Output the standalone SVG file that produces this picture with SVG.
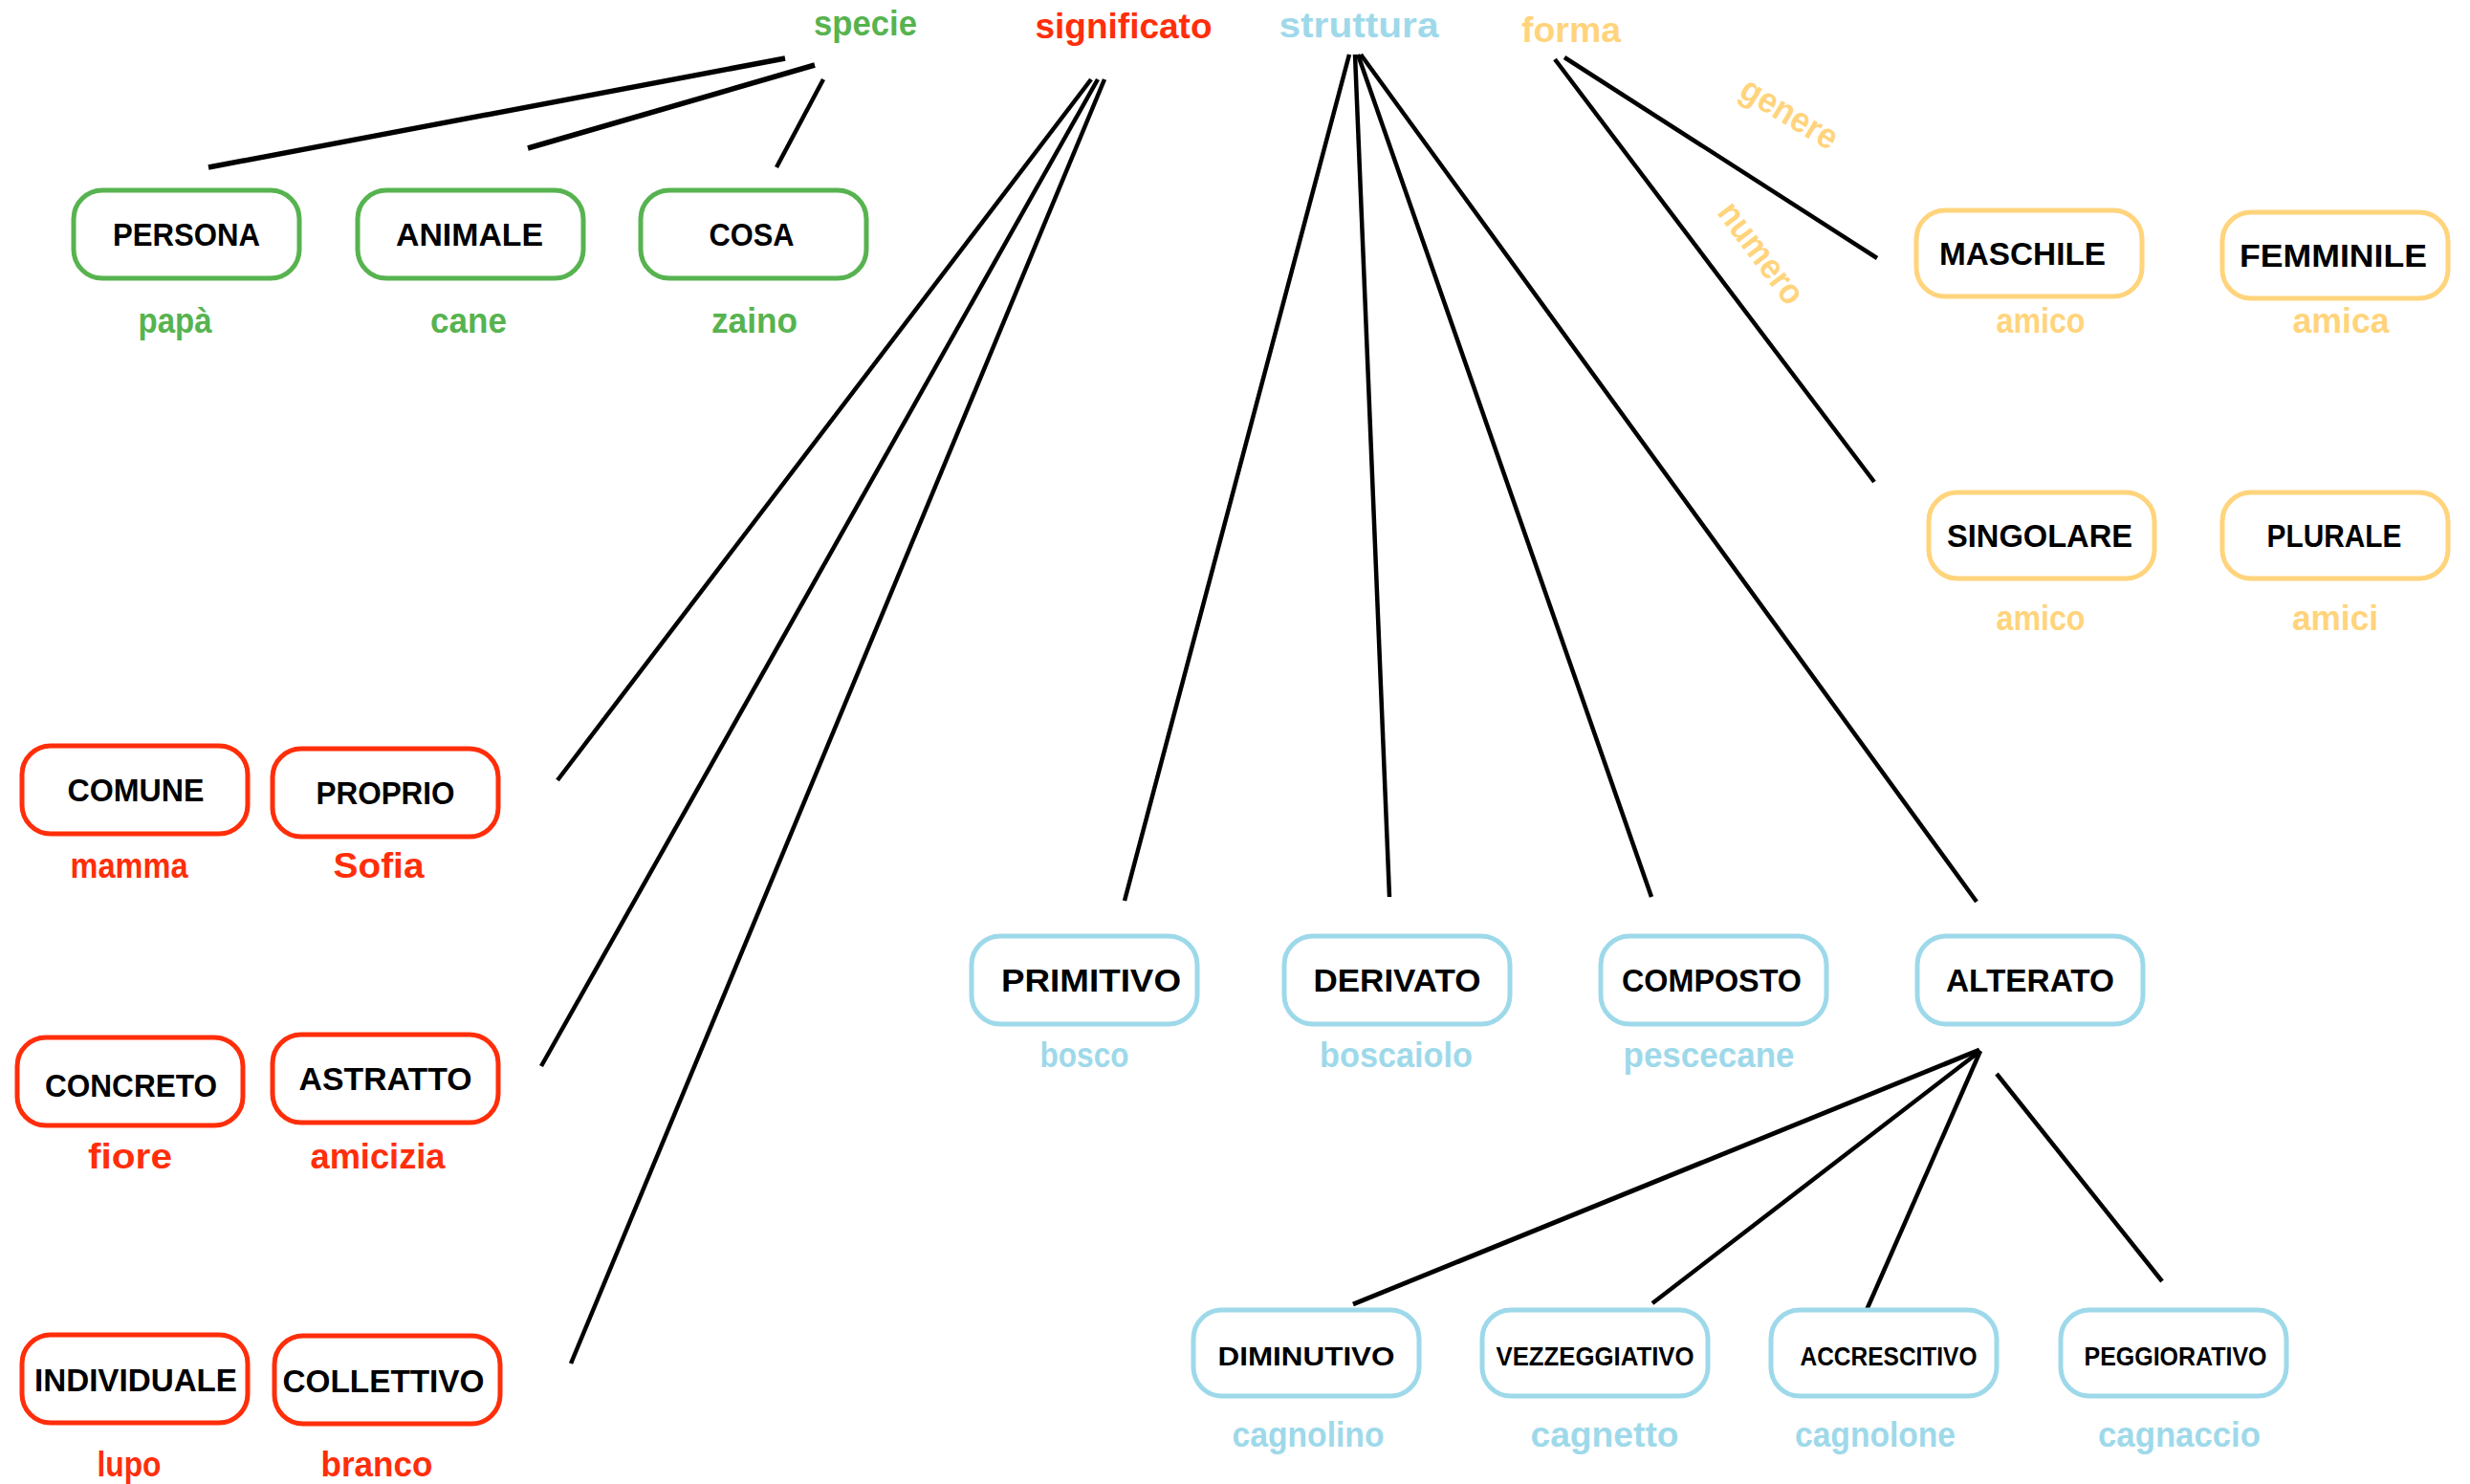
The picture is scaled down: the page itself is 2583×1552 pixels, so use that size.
<svg xmlns="http://www.w3.org/2000/svg" width="2583" height="1552" viewBox="0 0 2583 1552">
<style>
text{font-family:"Liberation Sans","DejaVu Sans",sans-serif;font-weight:bold;text-anchor:middle}
.box{fill:#fff;stroke-width:5}
.g .box{stroke:#57B34F}
.r .box{stroke:#FF2E0A}
.b .box{stroke:#9ED9EA}
.y .box{stroke:#FFD47C}
.lbl{font-size:33px;fill:#000}
.sm{font-size:27px;fill:#000}
.ex{font-size:36px}
.title{font-size:37px}
.gt{fill:#57B34F}
.rt{fill:#FF2E0A}
.bt{fill:#9ED9EA}
.yt{fill:#FFD47C}
.conn line{stroke:#000;stroke-width:4.5;stroke-linecap:butt}
</style>
<rect width="2583" height="1552" fill="#fff"/>
<g id="connectors" class="conn">
<line x1="821" y1="61" x2="218" y2="175" style="stroke-width:5.5"/>
<line x1="852" y1="68" x2="552" y2="155" style="stroke-width:5.5"/>
<line x1="861" y1="83" x2="812" y2="175"/>
<line x1="1141" y1="83" x2="583" y2="816"/>
<line x1="1148" y1="83" x2="566" y2="1115"/>
<line x1="1155" y1="83" x2="597" y2="1426"/>
<line x1="1411" y1="57" x2="1176" y2="942"/>
<line x1="1417" y1="57" x2="1453" y2="938"/>
<line x1="1420" y1="57" x2="1727" y2="938"/>
<line x1="1423" y1="57" x2="2067" y2="943"/>
<line x1="1636" y1="60" x2="1963" y2="270"/>
<line x1="1626" y1="62" x2="1960" y2="504"/>
<line x1="2070" y1="1098" x2="1415" y2="1364" style="stroke-width:5"/>
<line x1="2071" y1="1099" x2="1728" y2="1363"/>
<line x1="2071" y1="1099" x2="1952" y2="1370"/>
<line x1="2088" y1="1123" x2="2261" y2="1340"/>
</g>
<g id="titles">
<text id="t-specie" class="title gt" x="905" y="37" textLength="108" lengthAdjust="spacingAndGlyphs">specie</text>
<text id="t-significato" class="title rt" x="1175" y="40" textLength="185" lengthAdjust="spacingAndGlyphs">significato</text>
<text id="t-struttura" class="title bt" x="1421" y="39" textLength="167" lengthAdjust="spacingAndGlyphs">struttura</text>
<text id="t-forma" class="title yt" x="1643" y="44" textLength="104" lengthAdjust="spacingAndGlyphs">forma</text>
<text id="t-genere" class="title yt" transform="translate(1865,129) rotate(31)" x="0" y="0" textLength="112" lengthAdjust="spacingAndGlyphs">genere</text>
<text id="t-numero" class="title yt" transform="translate(1832,272) rotate(53)" x="0" y="0" textLength="124" lengthAdjust="spacingAndGlyphs">numero</text>
</g>
<g id="n-persona" class="g"><rect class="box" x="77" y="199" width="236" height="92" rx="30"/><text class="lbl" x="195" y="257" textLength="154" lengthAdjust="spacingAndGlyphs">PERSONA</text><text class="ex gt" x="183" y="348" textLength="77" lengthAdjust="spacingAndGlyphs">papà</text></g>
<g id="n-animale" class="g"><rect class="box" x="374" y="199" width="236" height="92" rx="30"/><text class="lbl" x="491" y="257" textLength="154" lengthAdjust="spacingAndGlyphs">ANIMALE</text><text class="ex gt" x="490" y="348" textLength="80" lengthAdjust="spacingAndGlyphs">cane</text></g>
<g id="n-cosa" class="g"><rect class="box" x="670" y="199" width="236" height="92" rx="30"/><text class="lbl" x="786" y="257" textLength="89" lengthAdjust="spacingAndGlyphs">COSA</text><text class="ex gt" x="789" y="348" textLength="90" lengthAdjust="spacingAndGlyphs">zaino</text></g>
<g id="n-comune" class="r"><rect class="box" x="23" y="780" width="236" height="92" rx="30"/><text class="lbl" x="142" y="838" textLength="143" lengthAdjust="spacingAndGlyphs">COMUNE</text><text class="ex rt" x="135" y="918" textLength="123" lengthAdjust="spacingAndGlyphs">mamma</text></g>
<g id="n-proprio" class="r"><rect class="box" x="285" y="783" width="236" height="92" rx="30"/><text class="lbl" x="403" y="841" textLength="145" lengthAdjust="spacingAndGlyphs">PROPRIO</text><text class="ex rt" x="396" y="918" textLength="95" lengthAdjust="spacingAndGlyphs">Sofia</text></g>
<g id="n-concreto" class="r"><rect class="box" x="18" y="1085" width="236" height="92" rx="30"/><text class="lbl" x="137" y="1147" textLength="180" lengthAdjust="spacingAndGlyphs">CONCRETO</text><text class="ex rt" x="136" y="1222" textLength="88" lengthAdjust="spacingAndGlyphs">fiore</text></g>
<g id="n-astratto" class="r"><rect class="box" x="285" y="1082" width="236" height="92" rx="30"/><text class="lbl" x="403" y="1140" textLength="181" lengthAdjust="spacingAndGlyphs">ASTRATTO</text><text class="ex rt" x="395" y="1222" textLength="141" lengthAdjust="spacingAndGlyphs">amicizia</text></g>
<g id="n-individuale" class="r"><rect class="box" x="23" y="1396" width="236" height="92" rx="30"/><text class="lbl" x="142" y="1455" textLength="212" lengthAdjust="spacingAndGlyphs">INDIVIDUALE</text><text class="ex rt" x="135" y="1544" textLength="67" lengthAdjust="spacingAndGlyphs">lupo</text></g>
<g id="n-collettivo" class="r"><rect class="box" x="287" y="1397" width="236" height="92" rx="30"/><text class="lbl" x="401" y="1456" textLength="211" lengthAdjust="spacingAndGlyphs">COLLETTIVO</text><text class="ex rt" x="394" y="1544" textLength="117" lengthAdjust="spacingAndGlyphs">branco</text></g>
<g id="n-primitivo" class="b"><rect class="box" x="1016" y="979" width="236" height="92" rx="30"/><text class="lbl" x="1141" y="1037" textLength="188" lengthAdjust="spacingAndGlyphs">PRIMITIVO</text><text class="ex bt" x="1134" y="1116" textLength="93" lengthAdjust="spacingAndGlyphs">bosco</text></g>
<g id="n-derivato" class="b"><rect class="box" x="1343" y="979" width="236" height="92" rx="30"/><text class="lbl" x="1461" y="1037" textLength="175" lengthAdjust="spacingAndGlyphs">DERIVATO</text><text class="ex bt" x="1460" y="1116" textLength="160" lengthAdjust="spacingAndGlyphs">boscaiolo</text></g>
<g id="n-composto" class="b"><rect class="box" x="1674" y="979" width="236" height="92" rx="30"/><text class="lbl" x="1790" y="1037" textLength="188" lengthAdjust="spacingAndGlyphs">COMPOSTO</text><text class="ex bt" x="1787" y="1116" textLength="179" lengthAdjust="spacingAndGlyphs">pescecane</text></g>
<g id="n-alterato" class="b"><rect class="box" x="2005" y="979" width="236" height="92" rx="30"/><text class="lbl" x="2123" y="1037" textLength="176" lengthAdjust="spacingAndGlyphs">ALTERATO</text></g>
<g id="n-diminutivo" class="b"><rect class="box" x="1248" y="1370" width="236" height="90" rx="30"/><text class="sm" x="1366" y="1428" textLength="185" lengthAdjust="spacingAndGlyphs">DIMINUTIVO</text><text class="ex bt" x="1368" y="1513" textLength="159" lengthAdjust="spacingAndGlyphs">cagnolino</text></g>
<g id="n-vezzeggiativo" class="b"><rect class="box" x="1550" y="1370" width="236" height="90" rx="30"/><text class="sm" x="1668" y="1428" textLength="207" lengthAdjust="spacingAndGlyphs">VEZZEGGIATIVO</text><text class="ex bt" x="1678" y="1513" textLength="155" lengthAdjust="spacingAndGlyphs">cagnetto</text></g>
<g id="n-accrescitivo" class="b"><rect class="box" x="1852" y="1370" width="236" height="90" rx="30"/><text class="sm" x="1975" y="1428" textLength="185" lengthAdjust="spacingAndGlyphs">ACCRESCITIVO</text><text class="ex bt" x="1961" y="1513" textLength="168" lengthAdjust="spacingAndGlyphs">cagnolone</text></g>
<g id="n-peggiorativo" class="b"><rect class="box" x="2155" y="1370" width="236" height="90" rx="30"/><text class="sm" x="2275" y="1428" textLength="191" lengthAdjust="spacingAndGlyphs">PEGGIORATIVO</text><text class="ex bt" x="2279" y="1513" textLength="170" lengthAdjust="spacingAndGlyphs">cagnaccio</text></g>
<g id="n-maschile" class="y"><rect class="box" x="2004" y="220" width="236" height="90" rx="30"/><text class="lbl" x="2115" y="277" textLength="174" lengthAdjust="spacingAndGlyphs">MASCHILE</text><text class="ex yt" x="2134" y="348" textLength="93" lengthAdjust="spacingAndGlyphs">amico</text></g>
<g id="n-femminile" class="y"><rect class="box" x="2324" y="222" width="236" height="90" rx="30"/><text class="lbl" x="2440" y="279" textLength="196" lengthAdjust="spacingAndGlyphs">FEMMINILE</text><text class="ex yt" x="2448" y="348" textLength="101" lengthAdjust="spacingAndGlyphs">amica</text></g>
<g id="n-singolare" class="y"><rect class="box" x="2017" y="515" width="236" height="90" rx="30"/><text class="lbl" x="2133" y="572" textLength="194" lengthAdjust="spacingAndGlyphs">SINGOLARE</text><text class="ex yt" x="2134" y="659" textLength="93" lengthAdjust="spacingAndGlyphs">amico</text></g>
<g id="n-plurale" class="y"><rect class="box" x="2324" y="515" width="236" height="90" rx="30"/><text class="lbl" x="2441" y="572" textLength="141" lengthAdjust="spacingAndGlyphs">PLURALE</text><text class="ex yt" x="2442" y="659" textLength="90" lengthAdjust="spacingAndGlyphs">amici</text></g>
</svg>
